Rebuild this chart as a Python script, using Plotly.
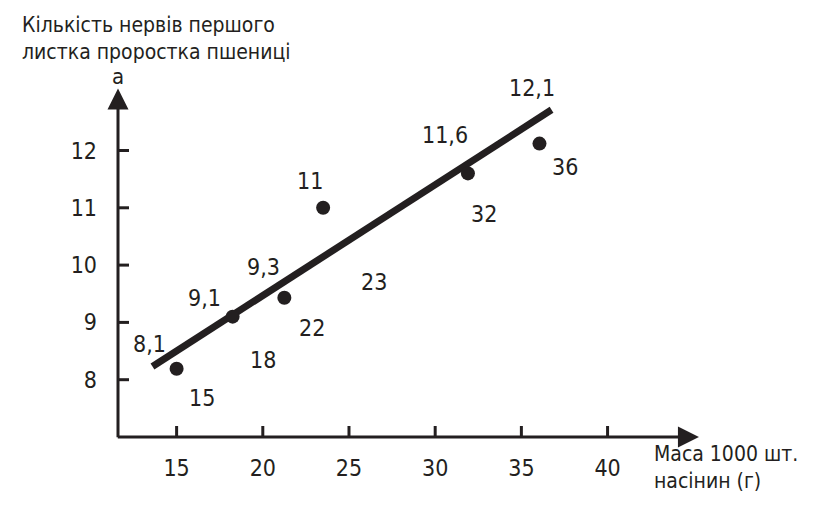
import plotly.graph_objects as go

# ---- data ----
mass_labels = ["15", "18", "22", "23", "32", "36"]           # mass of 1000 seeds, g
veins_labels = ["8,1", "9,1", "9,3", "11", "11,6", "12,1"]     # number of veins
point_x = [15.0, 18.25, 21.25, 23.5, 31.9, 36.05]              # dot positions as drawn
point_y = [8.19, 9.10, 9.43, 11.0, 11.6, 12.12]
trend_x = [13.6, 36.75]
trend_y = [8.23, 12.71]
x_ticks = [15, 20, 25, 30, 35, 40]
y_ticks = [8, 9, 10, 11, 12]

# ---- styling / geometry ----
INK = "#231f20"
FONT = "Liberation Sans Narrow, DejaVu Sans Condensed, Roboto, sans-serif"
X0, Y0 = 11.6, 7.0          # axes origin
X_END, Y_END = 45.3, 13.08  # arrow tips
# label offsets in pixels (veins label, mass label) per point
veins_off = [(-27, 25), (-28, 19), (-21, 31), (-13, 27), (-23, 38), (-7, 56)]
mass_off = [(25, -29), (30, -43), (28, -30), (51, -74), (16, -41), (26, -23)]

fig = go.Figure()
fig.add_trace(go.Scatter(x=trend_x, y=trend_y, mode="lines",
                         line=dict(color=INK, width=7), hoverinfo="skip"))
fig.add_trace(go.Scatter(x=point_x, y=point_y, mode="markers",
                         marker=dict(color=INK, size=14), hoverinfo="skip"))

ann = []
# axes with arrows
ann.append(dict(x=X_END, y=Y0, ax=X0 - 0.1, ay=Y0, xref="x", yref="y", axref="x", ayref="y",
                text="", showarrow=True, arrowhead=2, arrowsize=1.4, arrowwidth=3, arrowcolor=INK))
ann.append(dict(x=X0, y=Y_END, ax=X0, ay=Y0 - 0.03, xref="x", yref="y", axref="x", ayref="y",
                text="", showarrow=True, arrowhead=2, arrowsize=1.4, arrowwidth=3, arrowcolor=INK))
# value labels
for i in range(len(point_x)):
    ann.append(dict(x=point_x[i], y=point_y[i], xref="x", yref="y", text=veins_labels[i],
                    showarrow=False, xshift=veins_off[i][0], yshift=veins_off[i][1],
                    font=dict(size=23, color=INK, family=FONT)))
    ann.append(dict(x=point_x[i], y=point_y[i], xref="x", yref="y", text=mass_labels[i],
                    showarrow=False, xshift=mass_off[i][0], yshift=mass_off[i][1],
                    font=dict(size=23, color=INK, family=FONT)))
# axis titles
ann.append(dict(x=0, y=1.0, xref="paper", yref="paper", yanchor="bottom", xanchor="left",
                xshift=-98, yshift=10, text="Кількість нервів першого<br>листка проростка пшениці",
                showarrow=False, align="left", font=dict(size=21, color=INK, family=FONT)))
ann.append(dict(x=X0, y=Y_END, xref="x", yref="y", text="а", showarrow=False,
                yshift=12, font=dict(size=22, color=INK, family=FONT)))
ann.append(dict(x=X_END, y=Y0, xref="x", yref="y", text="Маса 1000 шт.<br>насінин (г)",
                showarrow=False, align="left", xanchor="left", yanchor="top",
                xshift=-47, yshift=-3, font=dict(size=21, color=INK, family=FONT)))

shapes = []
for t in x_ticks:
    shapes.append(dict(type="line", xref="x", yref="y", x0=t, x1=t, ysizemode="pixel",
                       yanchor=Y0, y0=-11, y1=11, line=dict(color=INK, width=3)))
for t in y_ticks:
    shapes.append(dict(type="line", xref="x", yref="y", y0=t, y1=t, xsizemode="pixel",
                       xanchor=X0, x0=-11, x1=11, line=dict(color=INK, width=3)))

fig.update_layout(
    width=813, height=520, autosize=False,
    margin=dict(l=110, r=110, t=68, b=91),
    paper_bgcolor="white", plot_bgcolor="white",
    showlegend=False,
    annotations=ann, shapes=shapes,
    xaxis=dict(range=[X0, 46.0], showgrid=False, zeroline=False, showline=False,
               tickvals=x_ticks, ticktext=[str(v) for v in x_ticks], ticks="",
               ticklabelstandoff=15, tickfont=dict(size=23, color=INK, family=FONT)),
    yaxis=dict(range=[Y0, 13.3], showgrid=False, zeroline=False, showline=False,
               tickvals=y_ticks, ticktext=[str(v) for v in y_ticks], ticks="",
               ticklabelstandoff=20, tickfont=dict(size=23, color=INK, family=FONT)),
)
fig.write_html("out.html")
